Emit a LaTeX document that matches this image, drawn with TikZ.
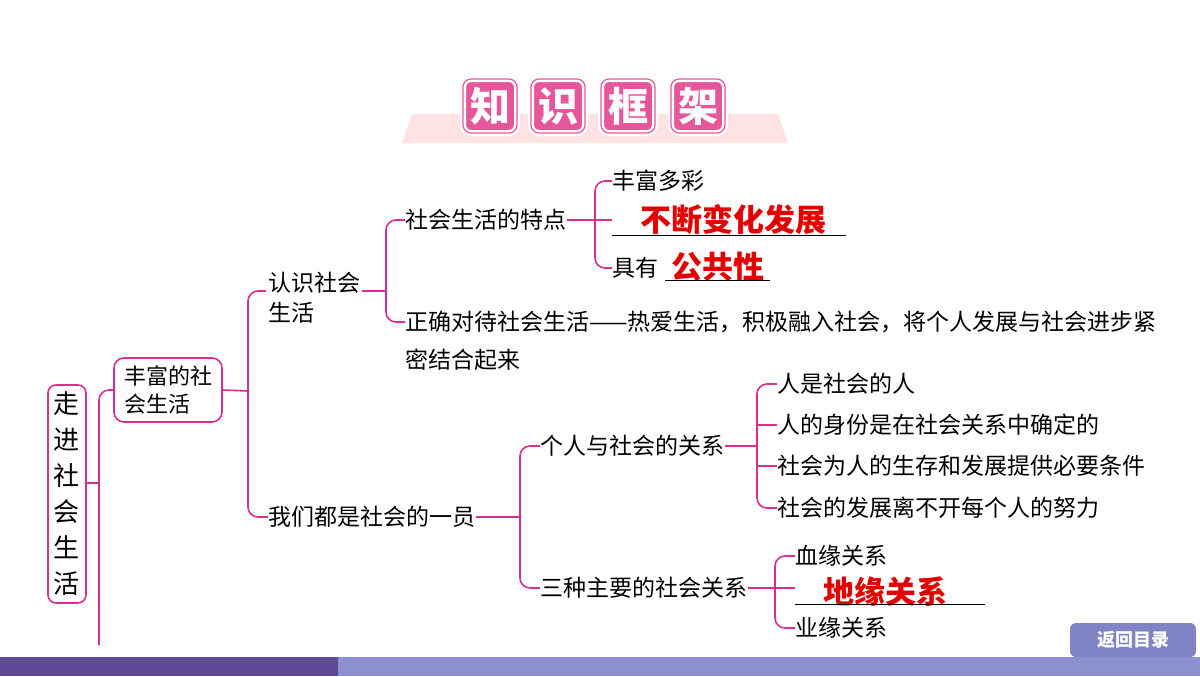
\documentclass[tikz,border=0pt]{standalone}
\usepackage{fontspec}
\setmainfont{Noto Sans CJK SC}
\definecolor{mag}{HTML}{D8308C}
\definecolor{tilec}{HTML}{E5579A}
\definecolor{barL}{HTML}{5E4B94}
\definecolor{barR}{HTML}{8C90CF}
\definecolor{btn}{HTML}{8084C6}
\begin{document}
\begin{tikzpicture}[x=0.5pt,y=-0.5pt,
  br/.style={draw=mag,line width=0.8pt,rounded corners=5pt},
  t/.style={anchor=west,font=\fontsize{11.5}{13}\selectfont,inner sep=0pt},
  red/.style={font=\fontsize{15.5}{16}\selectfont\bfseries,text=red!90!black,inner sep=0pt},
  ul/.style={draw=black,line width=0.5pt},
  tile/.style={draw=white,line width=1.2pt,fill=tilec,rounded corners=4pt,minimum width=27pt,minimum height=27pt,text=white,font=\fontsize{20}{20}\selectfont\bfseries,inner sep=0pt,double=tilec}]
\useasboundingbox (0,0) rectangle (1200,676);
\fill[white] (0,0) rectangle (1200,676);
% title
\fill[pink!45] (412,114) -- (778,114) -- (788,143) -- (402,143) -- cycle;
\node[tile] (k1) at (490,106) {知};
\node[tile] (k2) at (558,106) {识};
\node[tile] (k3) at (628,106) {框};
\node[tile] (k4) at (698,106) {架};
% root
\node[draw=mag,line width=0.8pt,rounded corners=4pt,minimum width=19pt,minimum height=109pt,inner sep=0pt,align=center,font=\fontsize{13}{18}\selectfont] (root) at (67,494) {走\\进\\社\\会\\生\\活};
\node[draw=mag,line width=0.8pt,rounded corners=5pt,minimum width=54pt,minimum height=32pt,inner sep=2pt,align=left,font=\fontsize{11}{14}\selectfont] (b2) at (168,390) {丰富的社\\会生活};
\coordinate (j0) at (99,483);
\draw[br] (root.east|-j0) -- (j0);
\draw[br] (b2.west) -- (99,390) -- (99,645);
% level 2
\node[t,align=left,font=\fontsize{11.5}{15}\selectfont] (a1) at (268,298) {认识社会\\生活};
\node[t] (a2) at (268,517) {我们都是社会的一员};
\coordinate (a1w) at (266,291);
\draw[br] (b2.east) -- (248,391);
\draw[br] (a1w) -- (248,291) -- (248,517) -- (a2.west);
% level 3 upper
\node[t] (c1) at (405,220) {社会生活的特点};
\node[t] (c2) at (405,322) {正确对待社会生活——热爱生活，积极融入社会，将个人发展与社会进步紧};
\node[t] (c2b) at (405,360) {密结合起来};
\draw[br] (362,291) -- (386,291);
\draw[br] (c1.west) -- (386,220) -- (386,322) -- (c2.west);
% level 4 upper
\node[t] (d1) at (612,181) {丰富多彩};
\node[red] (d2) at (733,220) {不断变化发展};
\node[t] (d3) at (612,268) {具有};
\node[red] (d4) at (718,267) {公共性};
\draw[ul] (612,235) -- (846,235);
\draw[ul] (665,280) -- (770,280);
\draw[br] (c1.east) -- (612,220);
\draw[br] (d1.west) -- (595,181) -- (595,268) -- (d3.west);
% level 3 lower
\node[t] (e1) at (540,446) {个人与社会的关系};
\node[t] (e2) at (540,588) {三种主要的社会关系};
\draw[br] (a2.east) -- (520,517);
\draw[br] (e1.west) -- (520,446) -- (520,588) -- (e2.west);
% level 4 lower
\node[t] (f1) at (777,384) {人是社会的人};
\node[t] (f2) at (777,425) {人的身份是在社会关系中确定的};
\node[t] (f3) at (777,466) {社会为人的生存和发展提供必要条件};
\node[t] (f4) at (777,508) {社会的发展离不开每个人的努力};
\draw[br] (e1.east) -- (757,446);
\draw[br] (f1.west) -- (757,384) -- (757,508) -- (f4.west);
\draw[br] (757,425) -- (f2.west);
\draw[br] (757,466) -- (f3.west);
\node[t] (g1) at (795,556) {血缘关系};
\node[red] (g2) at (885,592) {地缘关系};
\node[t] (g3) at (795,628) {业缘关系};
\draw[ul] (795,604) -- (985,604);
\draw[br] (e2.east) -- (795,588);
\draw[br] (g1.west) -- (775,556) -- (775,628) -- (g3.west);
% bottom bar
\fill[barL] (0,657) rectangle (338,676);
\fill[barR] (338,657) rectangle (1200,676);
\node[fill=btn,rounded corners=3pt,minimum width=63pt,minimum height=17pt,text=white,font=\fontsize{9}{10}\selectfont\bfseries,inner sep=0pt] (back) at (1133,640) {返回目录};
\end{tikzpicture}
\end{document}
